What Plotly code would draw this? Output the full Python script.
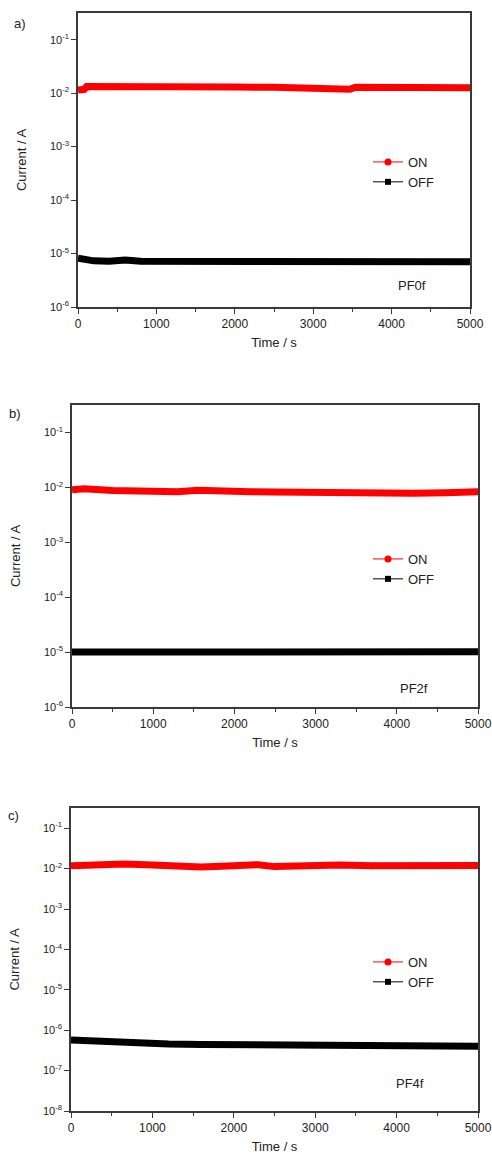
import plotly.graph_objects as go

W, H = 492, 1158

# a) PF0f
t_on_a = [0, 40, 80, 110, 500, 1000, 1500, 2000, 2500, 3000, 3400, 3470, 3540, 4000, 4500, 5000]
i_on_a = [0.0114, 0.0116, 0.0118, 0.0134, 0.0135, 0.0134, 0.0131, 0.0130, 0.0129, 0.0128,
          0.0127, 0.0119, 0.0129, 0.0129, 0.0128, 0.0127]
t_off_a = [0, 60, 200, 400, 600, 800, 1000, 1240, 1450, 1530, 1750, 2000, 2200, 2390, 2600,
           3000, 3450, 3700, 4000, 4270, 4500, 5000]
i_off_a = [8.2e-6, 7.8e-6, 7.3e-6, 7.2e-6, 7.6e-6, 7.2e-6, 7.2e-6, 7.5e-6, 7.2e-6, 7.5e-6,
           7.2e-6, 7.4e-6, 7.1e-6, 7.3e-6, 7.1e-6, 7.1e-6, 7.4e-6, 7.1e-6, 7.0e-6, 7.3e-6,
           7.0e-6, 7.0e-6]

# b) PF2f
t_on_b = [0, 150, 500, 1000, 1300, 1550, 1800, 2200, 2500, 3000, 3500, 3900, 4000, 4200, 4600, 5000]
i_on_b = [0.0090, 0.0094, 0.0088, 0.0084, 0.0083, 0.0089, 0.0085, 0.0083, 0.0082, 0.0081,
          0.0079, 0.0079, 0.0075, 0.0078, 0.0080, 0.0083]
t_off_b = [0, 500, 1000, 1500, 2000, 2300, 2700, 3200, 3700, 4200, 4600, 5000]
i_off_b = [1.00e-5, 1.00e-5, 1.00e-5, 1.01e-5, 1.02e-5, 1.04e-5, 1.03e-5, 1.02e-5, 1.04e-5,
           1.02e-5, 1.02e-5, 1.01e-5]

# c) PF4f
t_on_c = [0, 300, 660, 1000, 1300, 1600, 2000, 2300, 2500, 2700, 2950, 3300, 3700, 4000, 4400, 4800, 5000]
i_on_c = [0.0118, 0.0122, 0.0130, 0.0122, 0.0118, 0.0110, 0.0118, 0.0125, 0.0112, 0.0115,
          0.0128, 0.0122, 0.0118, 0.0120, 0.0118, 0.0122, 0.0120]
t_off_c = [0, 200, 400, 550, 800, 1200, 1600, 2000, 2450, 3000, 3500, 4000, 4500, 5000]
i_off_c = [5.7e-7, 5.5e-7, 5.3e-7, 4.7e-7, 4.6e-7, 4.55e-7, 4.45e-7, 4.35e-7, 4.25e-7,
           4.2e-7, 4.15e-7, 4.2e-7, 4.1e-7, 4.0e-7]

panel_labels = ["a)", "b)", "c)"]
sample_names = ["PF0f", "PF2f", "PF4f"]
decades_a = [-6, -5, -4, -3, -2, -1]
decades_c = [-8, -7, -6, -5, -4, -3, -2, -1]

# pixel boxes of the three plot areas: left, right, top, bottom
boxes = [(78, 470, 13, 307), (72, 478, 405, 707), (71, 478, 808, 1111)]
yranges = [[-6, -0.5], [-6, -0.5], [-8, -0.5]]
ON_COLOR = "#ff0000"
OFF_COLOR = "#000000"
AXIS_COLOR = "#3a3a3a"
TEXT_COLOR = "#222222"
FONT = "Liberation Sans, Arial, sans-serif"


def px_x(x):
    return x / W


def px_y(y):
    return 1 - y / H


def dec_ticks(decades):
    vals = [10.0 ** d for d in decades]
    text = [f"10<sup>{d}</sup>" for d in decades]
    minors = [k * 10.0 ** d for d in decades for k in range(2, 10)]
    return vals, text, minors


fig = go.Figure()
series = [
    (t_on_a, i_on_a, t_off_a, i_off_a),
    (t_on_b, i_on_b, t_off_b, i_off_b),
    (t_on_c, i_on_c, t_off_c, i_off_c),
]
legend_tops = [147, 544, 947]

for k, (ton, ion, toff, ioff) in enumerate(series):
    n = "" if k == 0 else str(k + 1)
    xa, ya = "x" + n, "y" + n
    leg = "legend" + n
    fig.add_trace(go.Scatter(x=ton, y=ion, mode="lines", line=dict(color=ON_COLOR, width=7),
                             xaxis=xa, yaxis=ya, showlegend=False))
    fig.add_trace(go.Scatter(x=toff, y=ioff, mode="lines", line=dict(color=OFF_COLOR, width=7),
                             xaxis=xa, yaxis=ya, showlegend=False))
    # legend entries
    fig.add_trace(go.Scatter(x=[None], y=[None], mode="lines+markers", name="ON",
                             line=dict(color=ON_COLOR, width=1),
                             marker=dict(symbol="circle", size=7, color=ON_COLOR),
                             xaxis=xa, yaxis=ya, legend=leg))
    fig.add_trace(go.Scatter(x=[None], y=[None], mode="lines+markers", name="OFF",
                             line=dict(color=OFF_COLOR, width=1),
                             marker=dict(symbol="square", size=6, color=OFF_COLOR),
                             xaxis=xa, yaxis=ya, legend=leg))

layout = dict(
    width=W, height=H,
    margin=dict(l=0, r=0, t=0, b=0),
    paper_bgcolor="white", plot_bgcolor="white",
    font=dict(family=FONT, color=TEXT_COLOR, size=12),
    annotations=[],
)

for k in range(3):
    n = "" if k == 0 else str(k + 1)
    m = str(k + 4)  # overlay axis carrying the minor log ticks
    l, r, t, b = boxes[k]
    decades = decades_c if k == 2 else decades_a
    vals, text, minors = dec_ticks(decades)
    layout["xaxis" + n] = dict(
        domain=[px_x(l), px_x(r)], range=[0, 5000], anchor="y" + n, automargin=False,
        tickmode="linear", tick0=0, dtick=1000,
        ticks="outside", ticklen=5, tickwidth=1, tickcolor=AXIS_COLOR,
        minor=dict(dtick=500, ticks="outside", ticklen=3, tickcolor=AXIS_COLOR),
        showline=True, linecolor=AXIS_COLOR, linewidth=1.5, mirror=True,
        showgrid=False, zeroline=False, tickfont=dict(size=12),
        title=dict(text="Time / s", font=dict(size=13), standoff=8),
    )
    layout["yaxis" + n] = dict(
        domain=[px_y(b), px_y(t)], type="log", range=yranges[k], anchor="x" + n,
        automargin=False,
        tickmode="array", tickvals=vals, ticktext=text,
        ticks="outside", ticklen=5, tickwidth=1, tickcolor=AXIS_COLOR,
        showline=True, linecolor=AXIS_COLOR, linewidth=1.5, mirror=True,
        showgrid=False, zeroline=False, tickfont=dict(size=11),
        title=dict(text="Current / A", font=dict(size=13), standoff=20),
    )
    layout["yaxis" + m] = dict(
        domain=[px_y(b), px_y(t)], type="log", range=yranges[k], anchor="x" + n,
        overlaying="y" + n, side="left", automargin=False,
        tickmode="array", tickvals=minors, ticktext=[""] * len(minors),
        showticklabels=False, ticks="outside", ticklen=2.5, tickwidth=1,
        tickcolor=AXIS_COLOR, showline=False, showgrid=False, zeroline=False,
    )
    layout["legend" + n] = dict(
        x=px_x(368), y=px_y(legend_tops[k]), xanchor="left", yanchor="top",
        bgcolor="rgba(0,0,0,0)", borderwidth=0, font=dict(size=13, color=TEXT_COLOR),
        tracegroupgap=0, itemwidth=30,
    )

label_pos = [(20, 23), (15, 413), (13, 815)]
name_pos = [(412, 285), (414, 688), (410, 1083)]
for k in range(3):
    lx, ly = label_pos[k]
    layout["annotations"].append(dict(
        text=panel_labels[k], x=px_x(lx), y=px_y(ly), xref="paper", yref="paper",
        xanchor="center", yanchor="middle",
        showarrow=False, font=dict(size=13, color=TEXT_COLOR)))
    nx, ny = name_pos[k]
    layout["annotations"].append(dict(
        text=sample_names[k], x=px_x(nx), y=px_y(ny), xref="paper", yref="paper",
        xanchor="center", yanchor="middle",
        showarrow=False, font=dict(size=13, color=TEXT_COLOR)))

fig.update_layout(**layout)
# drop the default page margin so the figure sits at the window's corner
fig.write_html("out.html", config={"displayModeBar": False},
               post_script="document.body.style.margin='0px';document.body.style.overflow='hidden';")
